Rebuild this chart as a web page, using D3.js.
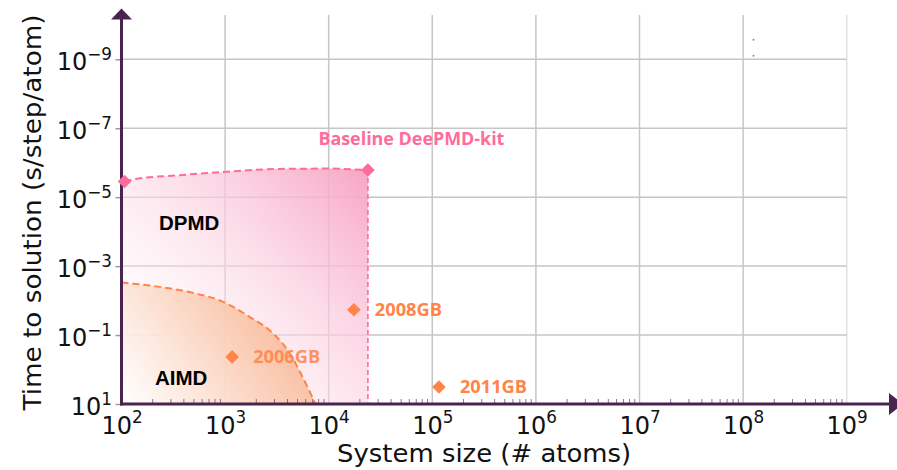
<!DOCTYPE html>
<html>
<head>
<meta charset="utf-8">
<script src="https://cdn.jsdelivr.net/npm/d3@7"></script>
<style>
  body { margin: 0; background: #fff; }
  svg { display: block; }
</style>
</head>
<body>
<svg id="chart" width="897" height="470"></svg>
<script>
// ---- data ----
const xTickExps = [2, 3, 4, 5, 6, 7, 8, 9];
const yTickExps = [1, -1, -3, -5, -7, -9];

// upper boundary of the DPMD region (atoms, s/step/atom)
const dpmdEdgeX = [107, 133, 363, 944, 3130, 10200, 21000, 23900];
const dpmdEdgeY = [3.5e-6, 3.0e-6, 2.3e-6, 1.86e-6, 1.52e-6, 1.48e-6, 1.6e-6, 1.63e-6];

// boundary of the AIMD region
const aimdEdgeX = [100, 233, 484, 944, 1720, 2870, 4190, 5590, 7460];
const aimdEdgeY = [3.0e-3, 4.0e-3, 5.9e-3, 1.07e-2, 2.95e-2, 8.7e-2, 0.33, 1.64, 10];

// DeePMD-kit markers
const dpNames = ["", "Baseline DeePMD-kit"];
const dpX = [107, 23900];
const dpY = [3.5e-6, 1.63e-6];

// Gordon Bell entries
const gbNames = ["2006GB", "2008GB", "2011GB"];
const gbX = [1170, 17500, 116000];
const gbY = [0.43, 0.0185, 3.2];

// region captions (anchor in data units)
const regionNames = ["DPMD", "AIMD"];
const regionX = [230, 210];
const regionY = [8.9e-5, 2.8];

// two tiny stray marks
const strayX = [1.26e8, 1.26e8];
const strayY = [2.7e-10, 7.9e-10];

// ---- layout ----
const svg = d3.select("#chart");
const plotL = 121.5, plotR = 846.7, plotB = 404, plotT = 15;
const x = d3.scaleLog().domain([1e2, 1e9]).range([plotL, plotR]);
const y = d3.scaleLog().domain([1e1, 1e-9]).range([plotB, 59.3]);

const axisColor = "#4a2350";
const pink = "#ff6b9c";
const orange = "#ff8447";
const tickFont = "DejaVu Sans, sans-serif";
const noteFont = "'Open Sans', Lato, sans-serif";

const defs = svg.append("defs");
const gPink = defs.append("linearGradient").attr("id", "dpmdFill")
  .attr("gradientUnits", "userSpaceOnUse")
  .attr("x1", x(100)).attr("y1", plotB)
  .attr("x2", x(23900)).attr("y2", y(1.63e-6));
gPink.append("stop").attr("offset", 0).attr("stop-color", "#ffffff").attr("stop-opacity", 0);
gPink.append("stop").attr("offset", 0.55).attr("stop-color", "#fbd3e2").attr("stop-opacity", 0.65);
gPink.append("stop").attr("offset", 1).attr("stop-color", "#f7a0c1").attr("stop-opacity", 0.95);

const gOrange = defs.append("linearGradient").attr("id", "aimdFill")
  .attr("gradientUnits", "userSpaceOnUse")
  .attr("x1", x(100)).attr("y1", plotB)
  .attr("x2", x(5000)).attr("y2", y(3e-3));
gOrange.append("stop").attr("offset", 0).attr("stop-color", "#ffffff").attr("stop-opacity", 0.9);
gOrange.append("stop").attr("offset", 1).attr("stop-color", "#f7ad86").attr("stop-opacity", 0.95);

// ---- grid ----
const grid = svg.append("g");
grid.selectAll("line.v").data(xTickExps.slice(1)).join("line")
  .attr("x1", d => x(10 ** d)).attr("x2", d => x(10 ** d))
  .attr("y1", plotT).attr("y2", plotB)
  .attr("stroke", d => d === 9 ? "#e2e2e2" : "#c6c6c6").attr("stroke-width", 1.5);
grid.selectAll("line.h").data(yTickExps.slice(1)).join("line")
  .attr("x1", plotL).attr("x2", plotR)
  .attr("y1", d => y(10 ** d)).attr("y2", d => y(10 ** d))
  .attr("stroke", "#c6c6c6").attr("stroke-width", 1.5);

// ---- regions ----
const dpmdPts = dpmdEdgeX.map((v, i) => [x(v), y(dpmdEdgeY[i])]);
const aimdPts = aimdEdgeX.map((v, i) => [x(v), y(aimdEdgeY[i])]);
const curve = d3.line().curve(d3.curveMonotoneX);

const xEnd = x(dpX[1]);
svg.append("path")
  .attr("d", curve(dpmdPts) + `L${xEnd},${plotB}L${plotL},${plotB}L${plotL},${dpmdPts[0][1]}Z`)
  .attr("fill", "url(#dpmdFill)");

svg.append("path")
  .attr("d", curve(aimdPts) + `L${plotL},${plotB}Z`)
  .attr("fill", "url(#aimdFill)");

// boundaries
svg.append("path").attr("d", curve(dpmdPts))
  .attr("fill", "none").attr("stroke", pink).attr("stroke-width", 2)
  .attr("stroke-dasharray", "7,4");
svg.append("line")
  .attr("x1", xEnd).attr("x2", xEnd)
  .attr("y1", y(dpY[1]) + 8).attr("y2", plotB)
  .attr("stroke", pink).attr("stroke-width", 1.6).attr("stroke-dasharray", "5,3");
svg.append("path").attr("d", curve(aimdPts))
  .attr("fill", "none").attr("stroke", orange).attr("stroke-width", 2)
  .attr("stroke-dasharray", "7,4");

// ---- axes ----
const yAxis = d3.axisLeft(y)
  .tickValues(yTickExps.map(e => 10 ** e))
  .tickSize(6).tickFormat(() => "");
const gy = svg.append("g").attr("transform", `translate(${plotL},0)`).call(yAxis);
gy.select(".domain").remove();
gy.selectAll(".tick line").attr("stroke", "#9a9a9a").attr("stroke-width", 1.5);
gy.selectAll(".tick text").remove();
gy.selectAll(".tick").each(function (d) {
  const e = Math.round(Math.log10(d));
  const t = d3.select(this).append("text")
    .attr("x", -9.5).attr("y", 10.5)
    .attr("text-anchor", "end")
    .attr("fill", "#111").attr("font-family", tickFont).attr("font-size", 24);
  t.append("tspan").text("10");
  t.append("tspan").attr("dy", -10.5).attr("font-size", 16.8)
    .text(e < 0 ? "\u2212" + Math.abs(e) : String(e));
});

const xMinor = [];
for (let e = 2; e < 9; e++) for (let k = 2; k <= 9; k++) xMinor.push(k * 10 ** e);
svg.append("g").selectAll("line").data(xMinor).join("line")
  .attr("x1", d => x(d)).attr("x2", d => x(d))
  .attr("y1", plotB - 5).attr("y2", plotB)
  .attr("stroke", "#6a5470").attr("stroke-width", 0.8);

const xAxis = d3.axisBottom(x)
  .tickValues(xTickExps.map(e => 10 ** e))
  .tickSize(0).tickFormat(() => "");
const gx = svg.append("g").attr("transform", `translate(0,${plotB})`).call(xAxis);
gx.select(".domain").remove();
gx.selectAll(".tick text").remove();
gx.selectAll(".tick").each(function (d) {
  const e = Math.round(Math.log10(d));
  const t = d3.select(this).append("text")
    .attr("x", 0).attr("y", 30)
    .attr("text-anchor", "middle")
    .attr("fill", "#111").attr("font-family", tickFont).attr("font-size", 24);
  t.append("tspan").text("10");
  t.append("tspan").attr("dy", -11.5).attr("font-size", 16.8).text(String(e));
});

// axis lines with arrow heads
svg.append("line").attr("x1", plotL).attr("x2", plotL).attr("y1", plotB + 1.5).attr("y2", 18)
  .attr("stroke", axisColor).attr("stroke-width", 3);
svg.append("path").attr("d", `M${plotL - 10.5},19.5L${plotL},8.5L${plotL + 10.5},19.5Z`).attr("fill", axisColor);
svg.append("line").attr("x1", plotL - 1.5).attr("x2", 892).attr("y1", plotB).attr("y2", plotB)
  .attr("stroke", axisColor).attr("stroke-width", 3);
svg.append("path").attr("d", `M889,${plotB - 11}L903,${plotB}L889,${plotB + 11}Z`).attr("fill", axisColor);

// ---- axis titles ----
svg.append("text")
  .attr("x", (plotL + plotR) / 2).attr("y", 462)
  .attr("text-anchor", "middle").attr("fill", "#111")
  .attr("font-family", tickFont).attr("font-size", 24.5)
  .attr("textLength", 294).attr("lengthAdjust", "spacingAndGlyphs")
  .text("System size (# atoms)");
svg.append("text")
  .attr("transform", `translate(41,${(plotT + plotB) / 2 + 3}) rotate(-90)`)
  .attr("text-anchor", "middle").attr("fill", "#111")
  .attr("font-family", tickFont).attr("font-size", 24.5)
  .attr("textLength", 396).attr("lengthAdjust", "spacingAndGlyphs")
  .text("Time to solution (s/step/atom)");

// ---- markers ----
const diamond = d3.symbol().type(d3.symbolDiamond2).size(118);
svg.append("g").selectAll("path").data(dpX).join("path")
  .attr("transform", (d, i) => `translate(${x(d)},${y(dpY[i])})`)
  .attr("d", diamond).attr("fill", pink);
svg.append("g").selectAll("path").data(gbX).join("path")
  .attr("transform", (d, i) => `translate(${x(d)},${y(gbY[i])})`)
  .attr("d", diamond).attr("fill", orange);

svg.append("g").selectAll("circle").data(strayX).join("circle")
  .attr("cx", d => x(d)).attr("cy", (d, i) => y(strayY[i]))
  .attr("r", 1).attr("fill", "#b36ad8");

// ---- labels ----
svg.append("text")
  .attr("x", x(dpX[1]) - 49.5).attr("y", y(dpY[1]) - 25)
  .attr("fill", pink).attr("font-family", noteFont).attr("font-weight", 700)
  .attr("font-size", 18.5).attr("textLength", 186).attr("lengthAdjust", "spacingAndGlyphs")
  .text(dpNames[1]);

svg.append("g").selectAll("text").data(gbNames).join("text")
  .attr("x", (d, i) => x(gbX[i]) + 21).attr("y", (d, i) => y(gbY[i]) + 6.5)
  .attr("fill", orange).attr("opacity", (d, i) => i === 0 ? 0.85 : 1)
  .attr("font-family", noteFont).attr("font-weight", 700)
  .attr("font-size", 18).attr("textLength", 67).attr("lengthAdjust", "spacingAndGlyphs")
  .text(d => d);

svg.append("g").selectAll("text").data(regionNames).join("text")
  .attr("x", (d, i) => x(regionX[i])).attr("y", (d, i) => y(regionY[i]))
  .attr("fill", "#000").attr("font-family", "Liberation Sans, Arial, sans-serif")
  .attr("font-weight", 700).attr("font-size", 20.5).text(d => d);
</script>
</body>
</html>
